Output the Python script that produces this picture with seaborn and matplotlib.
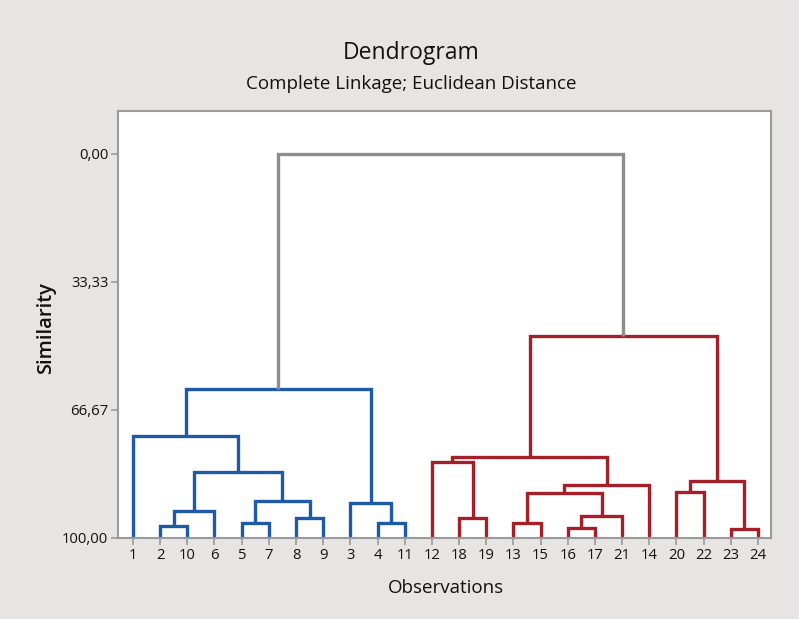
import matplotlib
matplotlib.use("Agg")
import matplotlib.pyplot as plt
import seaborn as sns
import pandas as pd

# leaf order along the x axis (observation numbers)
leaf_order = [1, 2, 10, 6, 5, 7, 8, 9, 3, 4, 11,
              12, 18, 19, 13, 15, 16, 17, 21, 14, 20, 22, 23, 24]

# merges: (left, right, similarity); new cluster ids start at 25
merge_left = [2, 5, 8, 4, 25, 26, 3, 29, 1, 33,
              18, 12, 13, 16, 38, 37, 40, 36, 20, 23, 43, 42, 34]
merge_right = [10, 7, 9, 11, 6, 27, 28, 30, 32, 31,
               19, 35, 15, 17, 21, 39, 14, 41, 22, 24, 44, 45, 46]
merge_sim = [96.9, 96.0, 94.7, 96.0, 93.1, 90.5, 90.9, 82.9, 73.4, 61.2,
             94.9, 80.2, 96.2, 97.3, 94.4, 88.4, 86.2, 78.8, 88.1, 97.7, 85.1, 47.3, 0.0]
merge_group = ["blue"] * 10 + ["red"] * 12 + ["root"]

y_ticks = [0, 33.33, 66.67, 100]
y_ticklabels = ["0,00", "33,33", "66,67", "100,00"]

palette = {"blue": "#1f5aa8", "red": "#a51f29", "root": "#8e8e8e"}

sns.set_theme(style="white")
plt.rcParams["font.family"] = ["Open Sans", "DejaVu Sans"]

# positions of leaves and clusters
pos = {obs: i for i, obs in enumerate(leaf_order)}
height = {obs: 100.0 for obs in leaf_order}
rows = []
for k, (a, b, s, g) in enumerate(zip(merge_left, merge_right, merge_sim, merge_group)):
    cid = 25 + k
    xa, xb = pos[a], pos[b]
    pts = [(xa, height[a]), (xa, s), (xb, s), (xb, height[b])]
    for j, (x, y) in enumerate(pts):
        rows.append({"link": cid, "order": j, "x": x, "y": y, "group": g})
    pos[cid] = (xa + xb) / 2
    height[cid] = s
df = pd.DataFrame(rows)

fig = plt.figure(figsize=(7.99, 6.19), dpi=100)
fig.patch.set_facecolor("#e7e5e3")
ax = fig.add_axes([0.1477, 0.1309, 0.8173, 0.6898])
ax.set_facecolor("white")

sns.lineplot(data=df, x="x", y="y", units="link", hue="group", palette=palette,
             estimator=None, sort=False, legend=False, linewidth=2.4, ax=ax,
             solid_joinstyle="miter", solid_capstyle="butt")

ax.set_xlim(-0.55, 23.48)
ax.set_ylim(100, -11.2)
ax.set_xticks(range(len(leaf_order)))
ax.set_xticklabels([str(v) for v in leaf_order], fontsize=10.7)
ax.set_yticks(y_ticks)
ax.set_yticklabels(y_ticklabels, fontsize=10.7)
ax.tick_params(axis="both", direction="out", length=5, width=1.2, color="#9a9a9a",
               pad=2, labelcolor="#111111")
ax.tick_params(axis="x", bottom=True)
ax.tick_params(axis="y", left=True)
for sp in ax.spines.values():
    sp.set_color("#9a9a9a")
    sp.set_linewidth(1.5)
ax.set_xlabel("")
ax.set_ylabel("")

fig.text(0.5576, 0.042, "Observations", ha="center", va="baseline", fontsize=13.5,
         color="#111111")
fig.text(0.0576, 0.4693, "Similarity", ha="center", va="center", rotation=90,
         fontsize=14.5, color="#111111", fontweight="semibold")

fig.text(0.5144, 0.9047, "Dendrogram", ha="center", va="baseline", fontsize=16.5,
         color="#111111")
fig.text(0.5144, 0.8562, "Complete Linkage; Euclidean Distance", ha="center",
         va="baseline", fontsize=13.5, color="#111111")

fig.savefig("out.png", dpi=100, facecolor=fig.get_facecolor())
